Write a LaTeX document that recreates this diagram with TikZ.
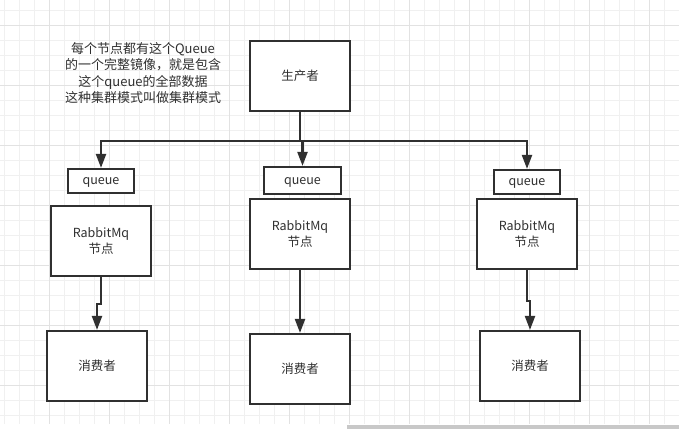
\documentclass[tikz,border=0pt]{standalone}
\usepackage{fontspec}
\setmainfont{Noto Sans CJK SC}
\usetikzlibrary{arrows.meta,calc}
\definecolor{ink}{HTML}{303030}
\definecolor{gridminor}{HTML}{F0F0F0}
\definecolor{gridmajor}{HTML}{E2E2E2}
\definecolor{barcol}{HTML}{C8C8C8}
\tikzset{
  boxnode/.style={draw=ink, line width=2.2pt, fill=white, text=ink, inner sep=0pt, align=center, font=\fontsize{12.5}{16.5}\selectfont},
  qnode/.style={boxnode, text height=9pt, text depth=2pt},
  arr/.style={draw=ink, line width=2.2pt, -{Triangle[length=14pt,width=10pt]}},
  note/.style={text=ink, align=center, font=\fontsize{13}{16.5}\selectfont, inner sep=0pt}
}
\begin{document}
\begin{tikzpicture}[x=1pt,y=-1pt]
\useasboundingbox (0,0) rectangle (679,429);
\fill[white] (0,0) rectangle (679,429);
% grid
\foreach \k in {0,...,44} {\draw[gridminor, line width=1pt] ({4.3+15*\k},0) -- ({4.3+15*\k},424);}
\foreach \k in {0,...,27} {\draw[gridminor, line width=1pt] (0,{10+15*\k}) -- (679,{10+15*\k});}
\foreach \k in {0,...,10} {\draw[gridmajor, line width=1pt] ({49.3+60*\k},0) -- ({49.3+60*\k},424);}
\foreach \k in {0,...,6} {\draw[gridmajor, line width=1pt] (0,{25+60*\k}) -- (679,{25+60*\k});}
% scrollbar
\fill[barcol] (347,425) rectangle (679,429);

% note
\node[note] (txt) at (143,73) {每个节点都有这个Queue\\的一个完整镜像，就是包含\\这个queue的全部数据\\这种集群模式叫做集群模式};

% producer
\node[boxnode, minimum width=100pt, minimum height=70pt] (p) at (300,76) {生产者};

% queues
\node[qnode, minimum width=66pt, minimum height=24pt] (q1) at (101,181) {queue};
\node[qnode, minimum width=77pt, minimum height=27pt] (q2) at (302.5,180.5) {queue};
\node[qnode, minimum width=66pt, minimum height=24pt] (q3) at (527,182) {queue};

% rabbit nodes
\node[boxnode, minimum width=100pt, minimum height=70pt] (r1) at (101,241) {RabbitMq\\节点};
\node[boxnode, minimum width=100pt, minimum height=70pt] (r2) at (300,234) {RabbitMq\\节点};
\node[boxnode, minimum width=100pt, minimum height=70pt] (r3) at (527,234) {RabbitMq\\节点};

% consumers
\node[boxnode, minimum width=100pt, minimum height=70pt] (c1) at (97,366) {消费者};
\node[boxnode, minimum width=100pt, minimum height=70pt] (c2) at (300,369) {消费者};
\node[boxnode, minimum width=100pt, minimum height=70pt] (c3) at (530,366) {消费者};

% producer to queues
\coordinate (split) at ($(p.south)+(0,29)$);
\draw[arr] (p.south) -- (split) -| (q1.north);
\draw[arr] (p.south) -- (split) -| (q2.north);
\draw[arr] (p.south) -- (split) -| (q3.north);

% rabbit to consumers
\draw[arr] (r1.south) -- ($(r1.south)+(0,27)$) -| (c1.north);
\draw[arr] (r2.south) -- (c2.north);
\draw[arr] (r3.south) -- ($(r3.south)+(0,31)$) -| (c3.north);
\end{tikzpicture}
\end{document}
